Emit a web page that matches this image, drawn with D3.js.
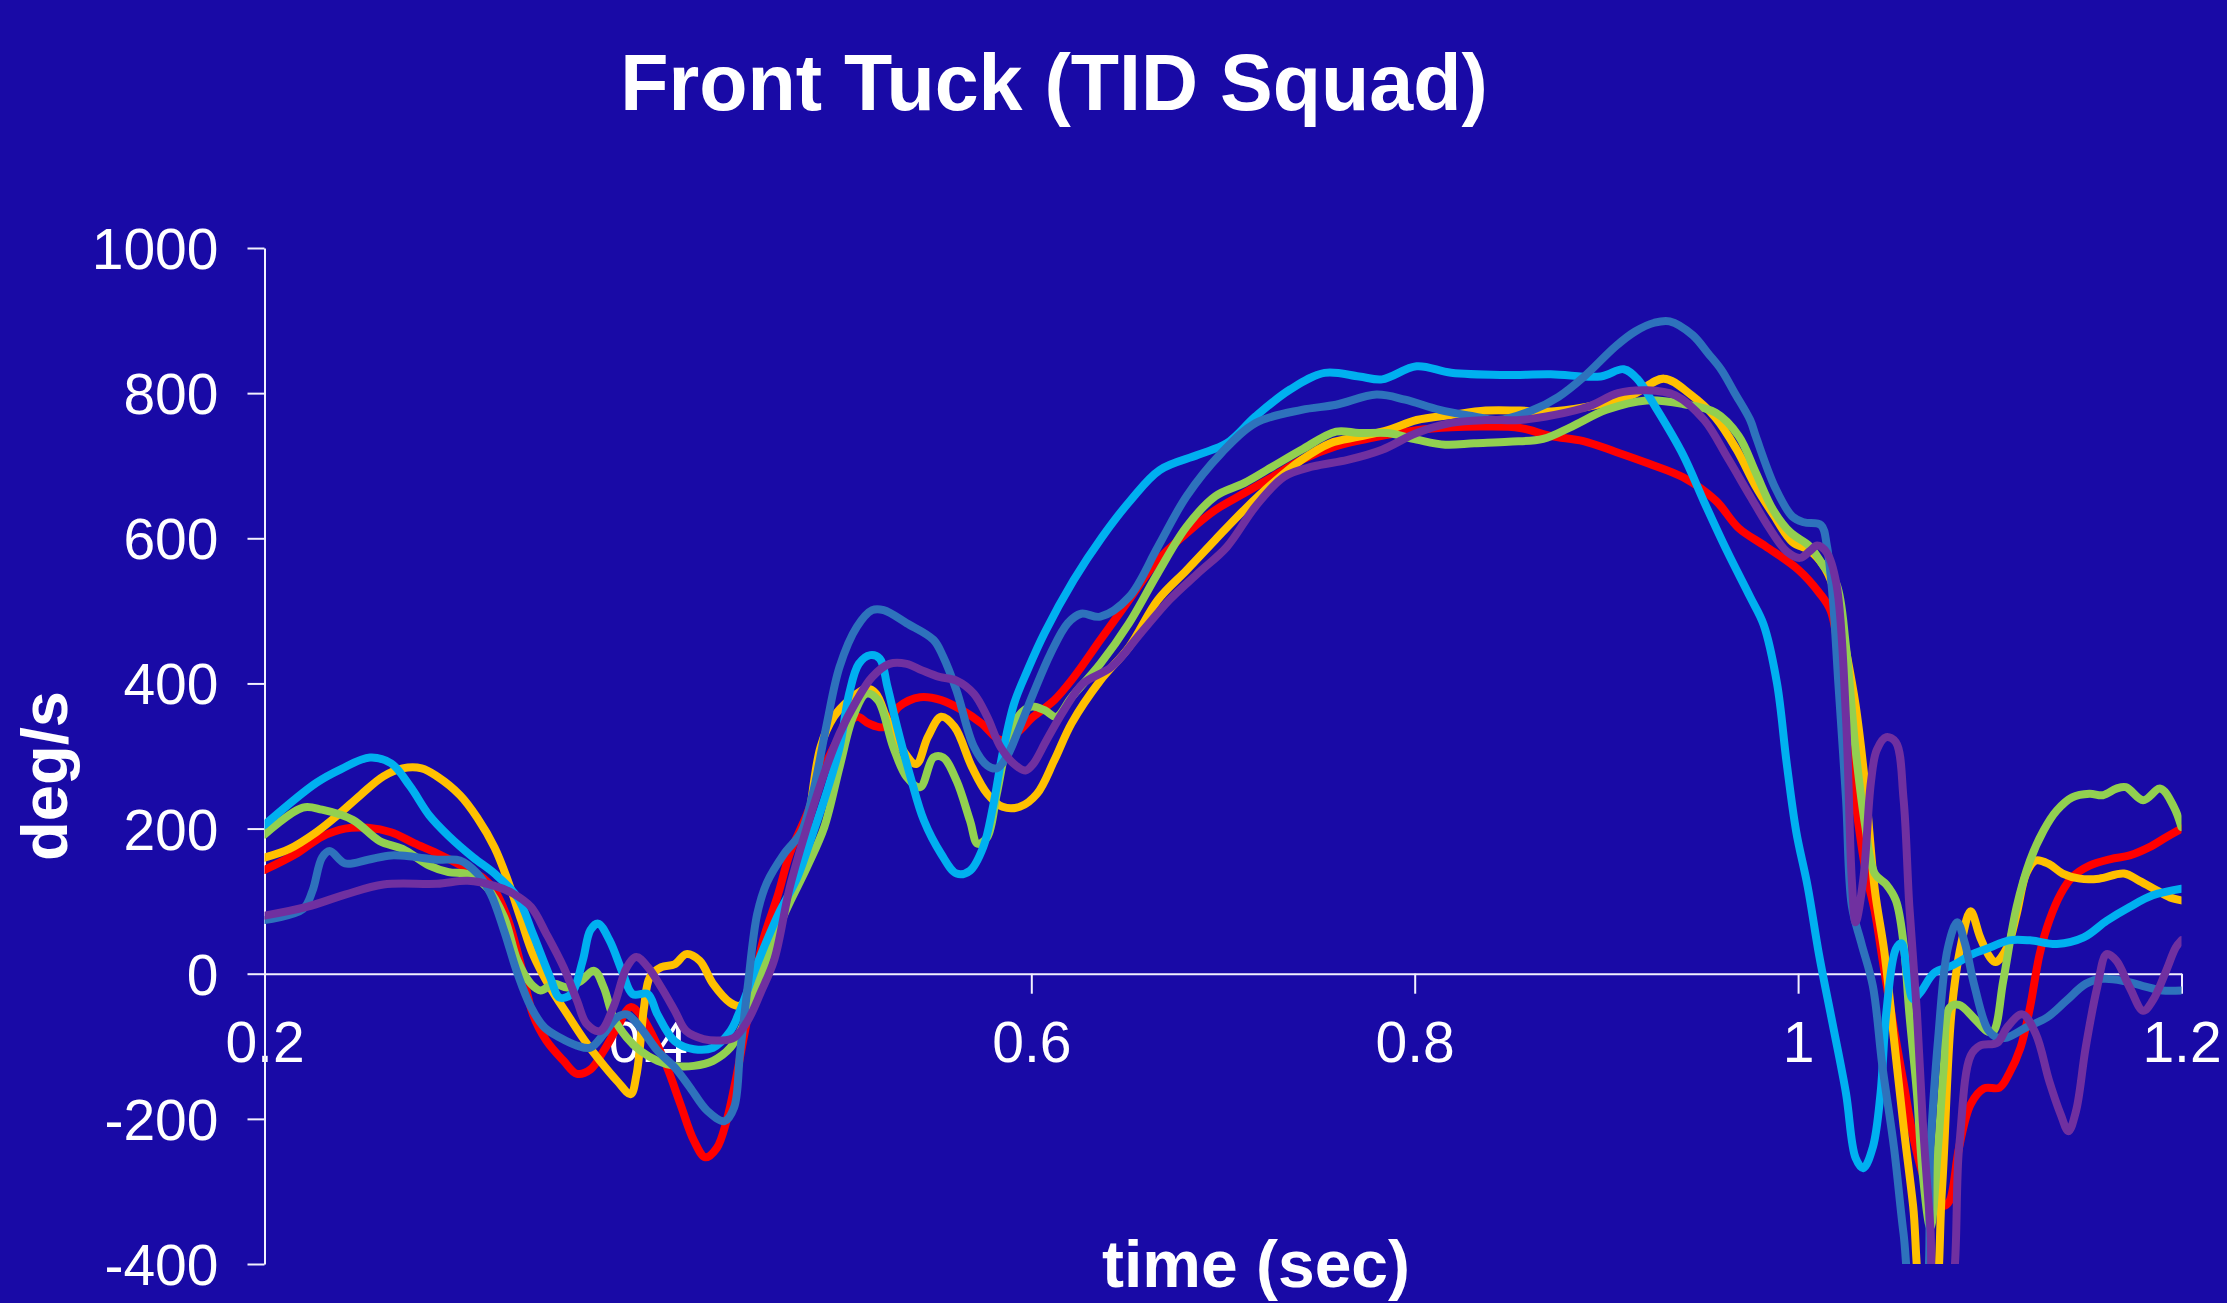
<!DOCTYPE html>
<html>
<head>
<meta charset="utf-8">
<script src="https://cdn.jsdelivr.net/npm/d3@7"></script>
<style>
  html, body { margin: 0; padding: 0; background: #190aa6; }
  svg { display: block; }
  text { font-family: "Liberation Sans", Arial, sans-serif; fill: #ffffff; }
</style>
</head>
<body>
<div id="chart"></div>
<script>
// angular velocity traces, [time (s), deg/s]
const red = [
  [0.200,143],[0.217,166],[0.230,189],[0.242,200],[0.254,201],[0.266,195],[0.278,180],[0.290,166],
  [0.302,150],[0.314,132],[0.320,115],[0.327,75],[0.334,9],[0.340,-56],[0.347,-92],[0.356,-120],
  [0.363,-138],[0.370,-132],[0.377,-106],[0.384,-74],[0.391,-46],[0.396,-56],[0.403,-88],[0.410,-129],
  [0.417,-180],[0.424,-230],[0.430,-253],[0.436,-240],[0.441,-203],[0.445,-157],[0.450,-88],[0.455,-19],
  [0.460,45],[0.468,110],[0.474,165],[0.483,220],[0.492,285],[0.500,326],[0.509,354],[0.515,345],
  [0.523,340],[0.531,368],[0.542,381],[0.553,377],[0.564,363],[0.574,345],[0.584,322],[0.592,331],
  [0.601,354],[0.612,377],[0.622,408],[0.636,460],[0.651,515],[0.666,570],[0.681,607],[0.696,639],
  [0.711,662],[0.726,685],[0.741,708],[0.759,727],[0.777,738],[0.801,749],[0.819,753],[0.837,754],
  [0.855,752],[0.871,741],[0.888,734],[0.905,719],[0.922,703],[0.940,684],[0.957,652],[0.969,614],
  [0.983,589],[1.000,557],[1.011,525],[1.017,500],[1.022,426],[1.028,278],[1.035,145],[1.040,86],
  [1.044,20],[1.050,-76],[1.055,-150],[1.060,-224],[1.065,-276],[1.071,-313],[1.076,-320],[1.079,-313],
  [1.084,-239],[1.090,-180],[1.097,-158],[1.105,-157],[1.110,-138],[1.116,-102],[1.121,-46],[1.126,27],
  [1.131,73],[1.137,110],[1.143,133],[1.152,149],[1.163,158],[1.173,163],[1.183,174],[1.192,188],[1.200,200]
];

const orange = [
  [0.200,160],[0.213,172],[0.227,195],[0.238,218],[0.250,246],[0.262,272],[0.272,283],[0.282,283],
  [0.290,272],[0.302,246],[0.311,215],[0.320,174],[0.327,128],[0.334,73],[0.340,27],[0.349,-19],
  [0.358,-56],[0.367,-92],[0.375,-120],[0.384,-148],[0.391,-166],[0.394,-140],[0.398,-46],[0.401,-5],
  [0.407,9],[0.414,13],[0.420,27],[0.427,18],[0.434,-14],[0.443,-40],[0.448,-44],[0.453,-28],
  [0.460,25],[0.466,64],[0.474,110],[0.483,202],[0.490,312],[0.497,354],[0.505,377],[0.514,393],
  [0.519,386],[0.525,349],[0.533,308],[0.540,289],[0.546,326],[0.553,354],[0.560,340],[0.569,285],
  [0.577,248],[0.585,230],[0.594,230],[0.603,248],[0.612,294],[0.621,345],[0.636,404],[0.651,450],
  [0.666,515],[0.681,556],[0.696,598],[0.711,639],[0.726,676],[0.741,708],[0.756,731],[0.771,740],
  [0.786,749],[0.801,763],[0.819,770],[0.837,776],[0.855,776],[0.873,775],[0.897,785],[0.914,798],
  [0.930,820],[0.944,798],[0.957,766],[0.968,722],[0.978,671],[0.987,633],[0.997,595],[1.006,583],
  [1.013,563],[1.018,535],[1.025,445],[1.030,370],[1.035,260],[1.040,116],[1.045,30],[1.050,-90],
  [1.055,-210],[1.060,-320],[1.065,-450],[1.070,-460],[1.075,-300],[1.080,-54],[1.085,40],[1.090,86],
  [1.095,50],[1.100,23],[1.103,16],[1.109,36],[1.114,82],[1.119,138],[1.124,156],[1.131,151],
  [1.138,138],[1.147,131],[1.157,131],[1.170,138],[1.178,128],[1.187,115],[1.194,105],[1.200,101]
];

const green = [
  [0.200,192],[0.220,229],[0.230,226],[0.246,212],[0.260,183],[0.272,172],[0.286,149],[0.296,140],
  [0.306,137],[0.316,119],[0.325,78],[0.332,18],[0.339,-14],[0.344,-23],[0.351,-14],[0.358,-19],
  [0.365,-10],[0.372,4],[0.377,-19],[0.382,-60],[0.389,-88],[0.396,-106],[0.405,-120],[0.414,-127],
  [0.424,-127],[0.434,-120],[0.443,-102],[0.450,-69],[0.457,-19],[0.464,36],[0.472,87],[0.483,147],
  [0.492,202],[0.500,285],[0.507,354],[0.514,386],[0.520,377],[0.528,312],[0.535,271],[0.542,257],
  [0.549,298],[0.554,298],[0.561,266],[0.568,211],[0.572,179],[0.577,188],[0.582,248],[0.587,312],
  [0.593,354],[0.600,368],[0.607,363],[0.613,354],[0.621,381],[0.636,427],[0.651,483],[0.666,552],
  [0.681,616],[0.696,658],[0.711,676],[0.726,699],[0.741,722],[0.759,747],[0.771,745],[0.786,745],
  [0.801,736],[0.816,729],[0.831,731],[0.849,733],[0.867,737],[0.882,754],[0.900,777],[0.921,790],
  [0.940,785],[0.957,773],[0.969,741],[0.978,690],[0.987,639],[0.996,608],[1.006,589],[1.013,563],
  [1.020,537],[1.025,450],[1.030,308],[1.035,204],[1.040,138],[1.046,123],[1.051,101],[1.055,42],
  [1.058,-54],[1.062,-165],[1.065,-276],[1.069,-350],[1.073,-239],[1.076,-128],[1.079,-47],[1.084,-43],
  [1.092,-62],[1.099,-80],[1.102,-79],[1.107,-10],[1.114,92],[1.121,156],[1.128,197],[1.135,225],
  [1.143,243],[1.152,248],[1.159,246],[1.166,255],[1.171,257],[1.180,239],[1.189,255],[1.196,230],[1.200,202]
];

const cyan = [
  [0.200,205],[0.227,263],[0.240,282],[0.255,298],[0.266,290],[0.276,258],[0.286,218],[0.296,190],
  [0.309,160],[0.320,138],[0.332,105],[0.340,55],[0.349,-5],[0.354,-33],[0.360,-28],[0.366,18],
  [0.370,60],[0.374,69],[0.380,46],[0.387,0],[0.392,-28],[0.400,-28],[0.405,-56],[0.414,-93],
  [0.424,-104],[0.434,-102],[0.443,-79],[0.448,-51],[0.457,13],[0.465,64],[0.469,87],[0.478,133],
  [0.486,193],[0.493,248],[0.500,312],[0.505,386],[0.510,427],[0.516,439],[0.521,434],[0.525,395],
  [0.530,340],[0.537,271],[0.544,211],[0.553,165],[0.561,138],[0.568,142],[0.575,175],[0.580,230],
  [0.585,303],[0.591,372],[0.598,418],[0.607,470],[0.622,542],[0.637,602],[0.652,653],[0.667,694],
  [0.687,715],[0.702,731],[0.717,768],[0.735,805],[0.753,828],[0.771,823],[0.783,819],[0.801,837],
  [0.819,828],[0.846,825],[0.871,826],[0.897,823],[0.909,833],[0.916,820],[0.926,779],[0.940,715],
  [0.951,650],[0.963,582],[0.975,519],[0.982,481],[0.989,400],[0.994,291],[0.999,196],[1.005,120],
  [1.011,25],[1.018,-69],[1.025,-165],[1.030,-254],[1.034,-268],[1.039,-239],[1.043,-165],[1.046,-54],
  [1.051,34],[1.054,42],[1.057,-3],[1.060,-35],[1.064,-25],[1.071,1],[1.081,12],[1.091,27],
  [1.100,36],[1.110,46],[1.121,46],[1.135,41],[1.149,50],[1.161,73],[1.173,92],[1.185,108],[1.200,117]
];

const steel = [
  [0.200,74],[0.220,89],[0.225,114],[0.230,160],[0.234,169],[0.242,152],[0.254,157],[0.266,163],
  [0.278,161],[0.290,157],[0.302,156],[0.311,138],[0.318,110],[0.325,59],[0.332,0],[0.339,-46],
  [0.346,-74],[0.354,-88],[0.363,-99],[0.370,-102],[0.377,-83],[0.384,-60],[0.389,-56],[0.396,-74],
  [0.405,-106],[0.414,-129],[0.422,-157],[0.431,-189],[0.440,-203],[0.445,-184],[0.448,-111],[0.452,-19],
  [0.457,82],[0.462,125],[0.471,165],[0.480,195],[0.486,248],[0.493,340],[0.500,423],[0.509,478],
  [0.517,501],[0.523,501],[0.535,483],[0.549,460],[0.554,437],[0.561,390],[0.570,313],[0.577,287],
  [0.582,283],[0.587,298],[0.594,340],[0.601,386],[0.610,441],[0.619,483],[0.626,496],[0.636,492],
  [0.651,519],[0.666,588],[0.681,658],[0.699,717],[0.717,759],[0.741,777],[0.759,784],[0.780,798],
  [0.795,791],[0.813,777],[0.831,768],[0.843,763],[0.861,776],[0.875,795],[0.888,822],[0.905,865],
  [0.915,885],[0.925,897],[0.933,899],[0.945,880],[0.953,855],[0.960,832],[0.967,800],[0.975,763],
  [0.978,740],[0.988,670],[0.997,630],[1.003,622],[1.012,618],[1.015,590],[1.018,520],[1.021,400],
  [1.025,241],[1.028,94],[1.033,42],[1.039,-17],[1.044,-128],[1.050,-239],[1.055,-358],[1.060,-450],
  [1.065,-450],[1.069,-239],[1.073,-91],[1.078,34],[1.083,71],[1.087,42],[1.092,-17],[1.099,-77],
  [1.104,-88],[1.109,-88],[1.119,-74],[1.130,-60],[1.140,-37],[1.150,-14],[1.159,-7],[1.170,-10],
  [1.180,-17],[1.190,-23],[1.200,-23]
];

const purple = [
  [0.200,80],[0.222,92],[0.242,109],[0.262,123],[0.290,124],[0.306,128],[0.320,121],[0.330,110],
  [0.339,92],[0.347,55],[0.356,9],[0.363,-37],[0.368,-69],[0.375,-79],[0.382,-46],[0.389,9],
  [0.394,23],[0.400,9],[0.407,-19],[0.414,-51],[0.420,-79],[0.429,-90],[0.438,-92],[0.445,-88],
  [0.452,-65],[0.459,-25],[0.466,20],[0.474,119],[0.483,202],[0.492,276],[0.500,331],[0.509,377],
  [0.517,409],[0.526,427],[0.535,427],[0.543,418],[0.552,409],[0.561,404],[0.570,386],[0.577,354],
  [0.584,312],[0.591,289],[0.597,280],[0.601,289],[0.608,322],[0.617,363],[0.627,400],[0.642,423],
  [0.657,469],[0.672,515],[0.687,552],[0.702,588],[0.717,644],[0.732,685],[0.747,699],[0.765,708],
  [0.783,722],[0.801,745],[0.819,759],[0.837,763],[0.855,763],[0.873,770],[0.891,782],[0.906,800],
  [0.921,804],[0.936,797],[0.951,763],[0.963,712],[0.975,658],[0.985,614],[0.994,582],[1.001,573],
  [1.006,582],[1.010,590],[1.015,580],[1.020,537],[1.025,352],[1.028,130],[1.030,71],[1.034,130],
  [1.038,264],[1.041,308],[1.046,326],[1.051,319],[1.055,241],[1.058,94],[1.062,-54],[1.065,-202],
  [1.069,-350],[1.072,-450],[1.078,-450],[1.084,-239],[1.090,-113],[1.095,-99],[1.104,-95],[1.109,-74],
  [1.117,-56],[1.124,-83],[1.131,-148],[1.137,-194],[1.141,-217],[1.145,-189],[1.150,-102],[1.156,-19],
  [1.161,27],[1.166,18],[1.173,-19],[1.180,-51],[1.185,-37],[1.192,4],[1.197,36],[1.200,46]
];

const xTicks = [0.2, 0.4, 0.6, 0.8, 1, 1.2];
const yTicks = [-400, -200, 0, 200, 400, 600, 800, 1000];

const series = [
  {name: "red", color: "#ff0000", values: red},
  {name: "orange", color: "#ffc000", values: orange},
  {name: "green", color: "#92d050", values: green},
  {name: "cyan", color: "#00b0f0", values: cyan},
  {name: "steel", color: "#2e72bc", values: steel},
  {name: "purple", color: "#7030a0", values: purple}
];

const W = 2227, H = 1303;
const axisColor = "#f2f0ff";

const svg = d3.select("#chart").append("svg")
  .attr("width", W).attr("height", H);

svg.append("rect").attr("width", W).attr("height", H).attr("fill", "#190aa6");

const x = d3.scaleLinear().domain([0.2, 1.2]).range([264.5, 2181.5]);
const y = d3.scaleLinear().domain([-400, 1000]).range([1264, 248]);

// clip lines to the plot box (they run off below -400)
svg.append("clipPath").attr("id", "plot")
  .append("rect")
  .attr("x", x(0.2)).attr("y", y(1000))
  .attr("width", x(1.2) - x(0.2)).attr("height", y(-400) - y(1000));

// title
svg.append("text")
  .attr("x", 1054).attr("y", 110)
  .attr("text-anchor", "middle")
  .attr("font-size", 79).attr("font-weight", "bold")
  .text("Front Tuck (TID Squad)");

// x axis sits on the zero line
const xAxis = svg.append("g")
  .attr("transform", `translate(0,${y(0)})`)
  .call(d3.axisBottom(x).tickValues(xTicks).tickSize(20).tickSizeOuter(0)
    .tickPadding(28).tickFormat(d => String(d)));

// y axis
const yAxis = svg.append("g")
  .attr("transform", `translate(${x(0.2)},0)`)
  .call(d3.axisLeft(y).tickValues(yTicks).tickSize(17).tickSizeOuter(0)
    .tickPadding(29).tickFormat(d => String(d)));

[xAxis, yAxis].forEach(g => {
  g.select(".domain").attr("stroke", axisColor).attr("stroke-width", 2);
  g.selectAll(".tick line").attr("stroke", axisColor).attr("stroke-width", 2);
  g.selectAll(".tick text")
    .attr("fill", "#ffffff")
    .attr("font-size", 57)
    .attr("font-family", "'Liberation Sans', Arial, sans-serif");
});
yAxis.selectAll(".tick text").attr("dy", "0.36em");
xAxis.selectAll(".tick text").attr("dy", "0.71em");

// lines
const line = d3.line()
  .x(d => x(d[0]))
  .y(d => y(d[1]))
  .curve(d3.curveCatmullRom.alpha(0.5));

svg.append("g").attr("clip-path", "url(#plot)")
  .selectAll("path")
  .data(series)
  .join("path")
  .attr("fill", "none")
  .attr("stroke", d => d.color)
  .attr("stroke-width", 8)
  .attr("stroke-linejoin", "round")
  .attr("stroke-linecap", "round")
  .attr("d", d => line(d.values));

// axis titles
svg.append("text")
  .attr("transform", "translate(67,776) rotate(-90)")
  .attr("text-anchor", "middle")
  .attr("font-size", 65).attr("font-weight", "bold")
  .text("deg/s");

svg.append("text")
  .attr("x", 1256).attr("y", 1287)
  .attr("text-anchor", "middle")
  .attr("font-size", 66).attr("font-weight", "bold")
  .text("time (sec)");
</script>
</body>
</html>
